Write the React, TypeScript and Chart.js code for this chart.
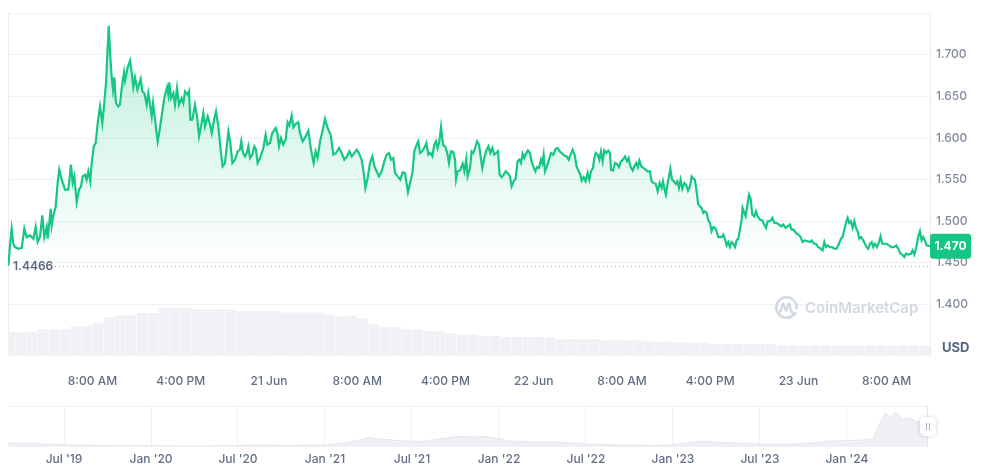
import React, { useEffect, useRef } from "react";
import { Chart, registerables } from "chart.js";
Chart.register(...registerables);

// Price series: hours since 20 Jun 00:00, price in USD
const priceHours = [
  0.37, 0.52, 0.67, 0.82, 0.97, 1.28, 1.58, 1.82, 2.03, 2.33, 2.64, 2.85, 3.03, 3.24, 3.45, 3.63, 3.85, 3.94, 4.09, 4.21,
  4.30, 4.45, 4.66, 4.84, 4.99, 5.21, 5.51, 5.81, 6.05, 6.20, 6.35, 6.57, 6.78, 6.96, 7.11, 7.32, 7.47, 7.62, 7.80, 7.93,
  8.11, 8.29, 8.47, 8.68, 8.89, 9.01, 9.22, 9.47, 9.62, 9.74, 9.86, 9.98, 10.13, 10.34, 10.49, 10.65, 10.86, 10.95, 11.19, 11.40,
  11.55, 11.70, 11.85, 12.07, 12.37, 12.52, 12.70, 12.91, 13.06, 13.24, 13.37, 13.49, 13.67, 13.79, 13.91, 14.09, 14.27, 14.51, 14.76, 14.88,
  14.97, 15.12, 15.33, 15.48, 15.66, 15.84, 16.08, 16.24, 16.39, 16.63, 16.75, 16.87, 17.05, 17.29, 17.48, 17.66, 17.84, 18.05, 18.20, 18.44,
  18.62, 18.81, 19.02, 19.20, 19.41, 19.65, 19.80, 20.01, 20.32, 20.50, 20.68, 20.92,
  21.16, 21.37, 21.49, 21.65, 21.83, 21.98, 22.13, 22.28, 22.49, 22.67, 22.82, 22.97, 23.19, 23.49, 23.70, 23.85, 24.09, 24.30, 24.61, 24.76,
  24.91, 25.09, 25.30, 25.51, 25.69, 25.85, 26.06, 26.21, 26.42, 26.66, 26.81, 27.05, 27.33, 27.57, 27.81, 28.05, 28.23, 28.41, 28.63, 28.84,
  29.08, 29.32, 29.59, 29.84, 30.08, 30.35, 30.59, 30.83, 31.07, 31.29, 31.50, 31.74, 31.95, 32.16, 32.40, 32.59, 32.74, 32.95, 33.16, 33.37,
  33.55, 33.76, 33.97, 34.22, 34.46, 34.67, 34.88, 35.06, 35.27, 35.43, 35.67, 35.91, 36.12, 36.33, 36.45, 36.60, 36.79, 37.00, 37.18, 37.39,
  37.54, 37.69, 37.90, 38.15, 38.27, 38.45, 38.63, 38.81, 38.99, 39.14, 39.29, 39.45, 39.60, 39.78, 39.96, 40.17, 40.32, 40.50, 40.71, 40.87,
  40.96, 41.11, 41.32, 41.56, 41.71, 41.89, 42.01, 42.23,
  42.37, 42.53, 42.68, 42.86, 43.04, 43.19, 43.34, 43.49, 43.67, 43.89, 44.07, 44.25, 44.43, 44.61, 44.76, 44.91, 45.09, 45.28, 45.46, 45.70,
  45.85, 46.00, 46.18, 46.36, 46.54, 46.70, 46.85, 47.00, 47.15, 47.30, 47.48, 47.66, 47.81, 47.99, 48.15, 48.30, 48.48, 48.66, 48.78, 48.90,
  49.02, 49.20, 49.39, 49.57, 49.78, 49.99, 50.17, 50.35, 50.53, 50.78, 50.99, 51.17, 51.35, 51.53, 51.71, 51.89, 52.08, 52.23, 52.35, 52.53,
  52.71, 52.89, 53.04, 53.19, 53.37, 53.50, 53.62, 53.80, 53.95, 54.10, 54.25, 54.40, 54.58, 54.76, 54.92, 55.01, 55.19, 55.37, 55.55, 55.73,
  55.91, 56.09, 56.28, 56.46, 56.61, 56.76, 56.97, 57.12, 57.30, 57.45, 57.58, 57.76, 57.94, 58.15, 58.33, 58.54, 58.69, 58.87, 59.06, 59.24,
  59.42, 59.60, 59.72, 59.87, 59.99, 60.14, 60.27, 60.39, 60.54, 60.72, 60.87, 61.02, 61.17, 61.32, 61.47, 61.66, 61.81, 61.99, 62.17, 62.32,
  62.50,
  62.62, 62.77, 62.92, 63.07, 63.22, 63.38, 63.53, 63.68, 63.83, 63.98, 64.13, 64.28, 64.43, 64.58, 64.74, 64.89, 65.04, 65.19, 65.34, 65.49,
  65.64, 65.79, 65.94, 66.10, 66.25, 66.40, 66.55, 66.70, 66.85, 66.94, 67.09, 67.21, 67.36, 67.52, 67.67, 67.82, 68.00, 68.15, 68.30, 68.51,
  68.72, 68.90, 69.06, 69.21, 69.42, 69.63, 69.81, 70.02, 70.24, 70.42, 70.63, 70.84, 71.02, 71.23, 71.38, 71.57, 71.78, 71.99, 72.20, 72.38,
  72.59, 72.83, 73.05, 73.20, 73.41, 73.59, 73.80, 74.04, 74.19, 74.35, 74.50, 74.65, 74.86, 75.07, 75.25, 75.46, 75.68, 75.86, 76.01, 76.16,
  76.31, 76.46, 76.61, 76.76, 76.91, 77.07, 77.22, 77.37, 77.52, 77.67, 77.88, 78.03, 78.18, 78.33, 78.49, 78.64, 78.79, 78.94, 79.12, 79.30,
  79.45, 79.60, 79.79, 79.99, 80.21, 80.45, 80.66, 80.87, 81.05, 81.26, 81.42, 81.60, 81.75, 81.96, 82.20, 82.35, 82.51, 82.69, 82.87, 83.02,
  83.17, 83.32, 83.47, 83.62, 83.93,
];
const priceValues = [
  1.4466, 1.471, 1.491, 1.473, 1.469, 1.467, 1.468, 1.491, 1.481, 1.483, 1.479, 1.493, 1.475, 1.481, 1.507, 1.481, 1.493, 1.479, 1.499, 1.515,
  1.495, 1.507, 1.517, 1.546, 1.562, 1.550, 1.538, 1.538, 1.568, 1.546, 1.554, 1.523, 1.538, 1.542, 1.554, 1.556, 1.550, 1.560, 1.548, 1.570,
  1.590, 1.594, 1.618, 1.638, 1.618, 1.634, 1.665, 1.735, 1.697, 1.673, 1.658, 1.673, 1.642, 1.638, 1.640, 1.660, 1.679, 1.669, 1.685, 1.693,
  1.679, 1.661, 1.673, 1.658, 1.671, 1.656, 1.654, 1.640, 1.654, 1.638, 1.626, 1.642, 1.622, 1.608, 1.596, 1.610, 1.626, 1.648, 1.661, 1.652,
  1.667, 1.648, 1.654, 1.640, 1.660, 1.640, 1.648, 1.642, 1.656, 1.652, 1.656, 1.622, 1.622, 1.640, 1.626, 1.602, 1.614, 1.630, 1.614, 1.626,
  1.618, 1.606, 1.622, 1.632, 1.614, 1.582, 1.566, 1.570, 1.608, 1.594, 1.570, 1.574,
  1.584, 1.586, 1.596, 1.582, 1.578, 1.582, 1.590, 1.576, 1.580, 1.590, 1.586, 1.570, 1.576, 1.588, 1.604, 1.592, 1.594, 1.606, 1.612, 1.606,
  1.590, 1.600, 1.592, 1.598, 1.619, 1.615, 1.627, 1.613, 1.617, 1.619, 1.606, 1.596, 1.602, 1.609, 1.586, 1.570, 1.584, 1.576, 1.596, 1.608,
  1.623, 1.612, 1.604, 1.580, 1.582, 1.588, 1.582, 1.574, 1.578, 1.584, 1.578, 1.582, 1.586, 1.582, 1.574, 1.558, 1.540, 1.552, 1.570, 1.578,
  1.566, 1.560, 1.554, 1.560, 1.572, 1.580, 1.582, 1.574, 1.576, 1.558, 1.554, 1.550, 1.559, 1.558, 1.548, 1.535, 1.546, 1.558, 1.584, 1.592,
  1.596, 1.582, 1.584, 1.590, 1.594, 1.580, 1.582, 1.578, 1.592, 1.596, 1.588, 1.596, 1.613, 1.592, 1.590, 1.582, 1.570, 1.584, 1.583, 1.574,
  1.550, 1.560, 1.561, 1.569, 1.560, 1.575, 1.554, 1.564,
  1.584, 1.582, 1.588, 1.596, 1.592, 1.578, 1.564, 1.574, 1.584, 1.590, 1.582, 1.588, 1.580, 1.582, 1.584, 1.556, 1.553, 1.556, 1.560, 1.557,
  1.554, 1.542, 1.548, 1.551, 1.572, 1.574, 1.570, 1.581, 1.576, 1.581, 1.585, 1.582, 1.572, 1.565, 1.560, 1.565, 1.564, 1.574, 1.570, 1.580,
  1.560, 1.566, 1.574, 1.582, 1.580, 1.587, 1.588, 1.584, 1.582, 1.579, 1.578, 1.574, 1.580, 1.586, 1.580, 1.566, 1.560, 1.556, 1.549, 1.553,
  1.548, 1.558, 1.550, 1.560, 1.564, 1.576, 1.582, 1.580, 1.574, 1.584, 1.572, 1.585, 1.582, 1.585, 1.582, 1.562, 1.561, 1.570, 1.569, 1.565,
  1.572, 1.574, 1.578, 1.572, 1.576, 1.566, 1.561, 1.566, 1.570, 1.565, 1.573, 1.566, 1.564, 1.562, 1.560, 1.560, 1.548, 1.546, 1.545, 1.536,
  1.546, 1.540, 1.548, 1.538, 1.532, 1.545, 1.554, 1.563, 1.550, 1.548, 1.545, 1.548, 1.540, 1.550, 1.539, 1.546, 1.544, 1.537, 1.542, 1.554,
  1.551,
  1.550, 1.536, 1.520, 1.518, 1.516, 1.510, 1.512, 1.510, 1.501, 1.498, 1.488, 1.493, 1.492, 1.488, 1.481, 1.481, 1.481, 1.484, 1.479, 1.471,
  1.475, 1.469, 1.475, 1.473, 1.469, 1.477, 1.479, 1.490, 1.502, 1.516, 1.510, 1.506, 1.518, 1.532, 1.527, 1.508, 1.506, 1.512, 1.506, 1.502,
  1.501, 1.496, 1.492, 1.500, 1.500, 1.504, 1.498, 1.498, 1.496, 1.494, 1.496, 1.492, 1.494, 1.496, 1.490, 1.490, 1.486, 1.484, 1.481, 1.475,
  1.477, 1.476, 1.475, 1.477, 1.473, 1.473, 1.469, 1.467, 1.465, 1.475, 1.469, 1.471, 1.469, 1.469, 1.467, 1.467, 1.473, 1.479, 1.481, 1.490,
  1.498, 1.504, 1.498, 1.500, 1.492, 1.500, 1.492, 1.488, 1.479, 1.481, 1.477, 1.473, 1.469, 1.467, 1.473, 1.475, 1.469, 1.473, 1.469, 1.475,
  1.482, 1.473, 1.473, 1.473, 1.471, 1.469, 1.469, 1.471, 1.467, 1.461, 1.460, 1.457, 1.461, 1.460, 1.461, 1.465, 1.460, 1.469, 1.482, 1.488,
  1.477, 1.481, 1.477, 1.471, 1.470,
];

// 24h volume (USD millions), hourly bars
const volumeValues = [
  2.43, 2.43, 2.43, 2.70, 2.70, 2.70, 3.00, 3.00, 3.30, 3.90, 4.10, 4.10, 4.33, 4.33, 4.83, 4.83, 4.83, 4.70, 4.70, 4.70,
  4.70, 4.53, 4.53, 4.53, 4.53, 4.40, 4.40, 4.40, 4.40, 4.20, 4.03, 4.03, 3.80, 3.20, 2.93, 2.93, 2.70, 2.70, 2.50, 2.50,
  2.30, 2.17, 2.17, 2.03, 2.03, 1.93, 1.93, 1.93, 1.93, 1.83, 1.70, 1.70, 1.70, 1.70, 1.60, 1.60, 1.60, 1.60, 1.50, 1.43,
  1.43, 1.37, 1.37, 1.37, 1.20, 1.20, 1.20, 1.20, 1.20, 1.20, 1.03, 1.03, 1.03, 1.03, 1.03, 1.03, 1.03, 1.03, 1.03, 1.03,
  1.03, 1.03, 1.03, 1.03,
];
const volumeHours = volumeValues.map((_, i) => i + 0.5);

const xTickHours = [8, 16, 24, 32, 40, 48, 56, 64, 72, 80];
const xTickLabels = ["8:00 AM", "4:00 PM", "21 Jun", "8:00 AM", "4:00 PM", "22 Jun", "8:00 AM", "4:00 PM", "23 Jun", "8:00 AM"];
const yTickValues = [1.4, 1.45, 1.5, 1.55, 1.6, 1.65, 1.7, 1.75];
const lowPrice = 1.4466;
const lastPrice = 1.47;

// Navigator (full history)
const navYears = [
  2019.18, 2019.3, 2019.45, 2019.55, 2019.7, 2020.0, 2020.3, 2020.5, 2020.6, 2020.8, 2021.0, 2021.1, 2021.2, 2021.25, 2021.3,
  2021.35, 2021.45, 2021.55, 2021.62, 2021.7, 2021.75, 2021.85, 2021.92, 2022.0, 2022.05, 2022.2, 2022.35, 2022.45, 2022.55,
  2022.7, 2022.9, 2023.0, 2023.08, 2023.15, 2023.25, 2023.35, 2023.5, 2023.7, 2023.8, 2023.9, 2024.0, 2024.1, 2024.15, 2024.18,
  2024.22, 2024.25, 2024.28, 2024.32, 2024.36, 2024.4, 2024.44, 2024.466,
];
const navValues = [
  0.22, 0.19, 0.14, 0.11, 0.08, 0.065, 0.055, 0.08, 0.11, 0.08, 0.11, 0.22, 0.38, 0.52, 0.44,
  0.41, 0.33, 0.3, 0.38, 0.49, 0.57, 0.54, 0.57, 0.44, 0.33, 0.27, 0.27, 0.19, 0.14,
  0.11, 0.08, 0.11, 0.22, 0.3, 0.27, 0.22, 0.16, 0.16, 0.22, 0.33, 0.35, 0.38, 0.44, 1.09,
  1.85, 1.63, 1.9, 1.52, 1.58, 1.36, 1.47, 1.47,
];
const navTickYears = [2019.5, 2020, 2020.5, 2021, 2021.5, 2022, 2022.5, 2023, 2023.5, 2024];
const navTickLabels = ["Jul '19", "Jan '20", "Jul '20", "Jan '21", "Jul '21", "Jan '22", "Jul '22", "Jan '23", "Jul '23", "Jan '24"];

const GREEN = "#16c784";
const FONT = "Inter";

export default function App() {
  const mainRef = useRef<HTMLCanvasElement>(null);
  const navRef = useRef<HTMLCanvasElement>(null);

  useEffect(() => {
    const overlay = {
      id: "overlay",
      beforeDatasetsDraw(chart: any) {
        const { ctx, chartArea, scales } = chart;
        const y = Math.round(scales.y.getPixelForValue(lowPrice)) + 0.5;
        ctx.save();
        ctx.strokeStyle = "#a7b1c2";
        ctx.lineWidth = 1;
        ctx.setLineDash([1, 3]);
        ctx.beginPath();
        ctx.moveTo(chartArea.left + 47, y);
        ctx.lineTo(chartArea.right, y);
        ctx.stroke();
        ctx.setLineDash([]);
        // left border
        ctx.strokeStyle = "#eaecef";
        ctx.beginPath();
        ctx.moveTo(chartArea.left + 0.5, chartArea.top);
        ctx.lineTo(chartArea.left + 0.5, chartArea.bottom);
        ctx.stroke();
        ctx.restore();
      },
      afterDraw(chart: any) {
        const { ctx, chartArea, scales } = chart;
        ctx.save();
        // low label
        const yl = scales.y.getPixelForValue(lowPrice);
        ctx.font = `600 12px ${FONT}`;
        ctx.fillStyle = "#58667e";
        ctx.textBaseline = "middle";
        ctx.textAlign = "left";
        ctx.fillText(lowPrice.toFixed(4), chartArea.left + 5, yl + 1);
        // watermark
        const cx = 786.5, cy = 307.5;
        ctx.strokeStyle = "#d3d9e3";
        ctx.lineWidth = 2.6;
        ctx.beginPath();
        ctx.arc(cx, cy, 10.2, 0.15 * Math.PI, 2.05 * Math.PI);
        ctx.stroke();
        ctx.lineWidth = 2.4;
        ctx.lineJoin = "round";
        ctx.beginPath();
        ctx.moveTo(cx - 6.5, cy + 5);
        ctx.lineTo(cx - 3.5, cy - 4);
        ctx.lineTo(cx - 0.5, cy + 3);
        ctx.lineTo(cx + 2.5, cy - 4);
        ctx.lineTo(cx + 5, cy + 4);
        ctx.quadraticCurveTo(cx + 7, cy + 8, cx + 9.5, cy + 5);
        ctx.stroke();
        ctx.fillStyle = "#d3d9e3";
        ctx.font = `600 15px ${FONT}`;
        ctx.textBaseline = "middle";
        ctx.fillText("CoinMarketCap", 805, 308.5);
        // USD
        ctx.fillStyle = "#58667e";
        ctx.font = `700 13px ${FONT}`;
        ctx.fillText("USD", chartArea.right + 12, 348.5);
        // price badge
        const yb = scales.y.getPixelForValue(lastPrice);
        ctx.fillStyle = GREEN;
        ctx.beginPath();
        (ctx as any).roundRect(chartArea.right, yb - 12.5, 41, 25, 3);
        ctx.fill();
        ctx.fillStyle = "#ffffff";
        ctx.font = `700 12px ${FONT}`;
        ctx.textAlign = "center";
        ctx.fillText(lastPrice.toFixed(3), chartArea.right + 20.5, yb + 0.5);
        ctx.restore();
      },
    };

    const main = new Chart(mainRef.current!, {
      type: "line",
      data: {
        datasets: [
          {
            type: "line",
            data: priceHours.map((h, i) => ({ x: h, y: priceValues[i] })),
            borderColor: GREEN,
            borderWidth: 2.2,
            pointRadius: 0,
            tension: 0,
            fill: "start",
            yAxisID: "y",
            order: 0,
            backgroundColor: (c: any) => {
              const ch = c.chart;
              const area = ch.chartArea;
              if (!area) return "rgba(22,199,132,0.1)";
              const yEnd = ch.scales.y.getPixelForValue(lowPrice);
              const g = ch.ctx.createLinearGradient(0, area.top, 0, yEnd);
              g.addColorStop(0, "rgba(22,199,132,0.30)");
              g.addColorStop(1, "rgba(22,199,132,0.0)");
              return g;
            },
          } as any,
          {
            type: "bar",
            data: volumeHours.map((h, i) => ({ x: h, y: volumeValues[i] })),
            backgroundColor: "#eff1f5",
            yAxisID: "yVol",
            barPercentage: 0.96,
            categoryPercentage: 1,
            order: 1,
          } as any,
        ],
      },
      options: {
        animation: false,
        responsive: false,
        devicePixelRatio: 1,
        layout: { padding: { left: 8, top: 10, right: 0, bottom: 0 } },
        plugins: { legend: { display: false }, tooltip: { enabled: false } },
        scales: {
          x: {
            type: "linear",
            offset: false,
            min: 0.34,
            max: 83.93,
            grid: { display: false, offset: false },
            border: { display: false },
            afterBuildTicks: (s: any) => {
              s.ticks = xTickHours.map((v) => ({ value: v }));
            },
            afterFit: (s: any) => {
              s.height = 44;
            },
            ticks: {
              autoSkip: false,
              maxRotation: 0,
              padding: 10,
              color: "#616e85",
              font: { family: FONT, size: 12, weight: "500" },
              callback: (v: any) => xTickLabels[xTickHours.indexOf(Number(v))] ?? "",
            },
          },
          y: {
            position: "right",
            min: 1.3381,
            max: 1.75,
            afterBuildTicks: (s: any) => {
              s.ticks = yTickValues.map((v) => ({ value: v }));
            },
            afterFit: (s: any) => {
              s.width = 65;
            },
            grid: { color: "#eff2f5", drawTicks: false },
            border: { display: true, color: "#eaecef" },
            ticks: {
              padding: 6,
              color: "#808a9d",
              font: { family: FONT, size: 12, weight: "500" },
              callback: (v: any) => (Number(v) >= 1.749 ? "" : Number(v).toFixed(3)),
            },
          },
          yVol: { display: false, min: 0, max: 34.6 },
        },
      } as any,
      plugins: [overlay],
    });

    const navOverlay = {
      id: "navOverlay",
      afterDraw(chart: any) {
        const { ctx, chartArea } = chart;
        ctx.save();
        ctx.strokeStyle = "#eff2f5";
        ctx.lineWidth = 1;
        ctx.beginPath();
        ctx.moveTo(chartArea.left, chartArea.top + 0.5);
        ctx.lineTo(chartArea.right, chartArea.top + 0.5);
        ctx.moveTo(chartArea.left, chartArea.bottom - 0.5);
        ctx.lineTo(chartArea.right, chartArea.bottom - 0.5);
        ctx.stroke();
        ctx.strokeStyle = "#dfe6f2";
        ctx.beginPath();
        ctx.moveTo(chartArea.right - 0.5, chartArea.top);
        ctx.lineTo(chartArea.right - 0.5, chartArea.bottom);
        ctx.stroke();
        // handle
        const hx = chartArea.right - 8, hy = 17;
        ctx.shadowColor = "rgba(0,0,0,0.18)";
        ctx.shadowBlur = 4;
        ctx.fillStyle = "#ffffff";
        ctx.beginPath();
        (ctx as any).roundRect(hx, hy, 16, 19, 5);
        ctx.fill();
        ctx.shadowColor = "transparent";
        ctx.strokeStyle = "#a6b0c3";
        ctx.lineWidth = 1;
        ctx.beginPath();
        ctx.moveTo(hx + 6.5, hy + 6);
        ctx.lineTo(hx + 6.5, hy + 13);
        ctx.moveTo(hx + 9.5, hy + 6);
        ctx.lineTo(hx + 9.5, hy + 13);
        ctx.stroke();
        ctx.restore();
      },
    };

    const nav = new Chart(navRef.current!, {
      type: "line",
      data: {
        datasets: [
          {
            data: navYears.map((x, i) => ({ x, y: navValues[i] })),
            borderColor: "#e2e6ee",
            borderWidth: 1,
            backgroundColor: "#eef0f4",
            fill: "start",
            pointRadius: 0,
            tension: 0,
          },
        ],
      },
      options: {
        animation: false,
        responsive: false,
        devicePixelRatio: 1,
        layout: { padding: { left: 8, right: 67, top: 6, bottom: 0 } },
        plugins: { legend: { display: false }, tooltip: { enabled: false } },
        scales: {
          x: {
            type: "linear",
            min: 2019.178,
            max: 2024.466,
            afterBuildTicks: (s: any) => {
              s.ticks = navTickYears.map((v) => ({ value: v }));
            },
            afterFit: (s: any) => {
              s.height = 23;
            },
            grid: { color: "#eff2f5", drawTicks: false },
            border: { display: false },
            ticks: {
              autoSkip: false,
              maxRotation: 0,
              padding: 5,
              color: "#616e85",
              font: { family: FONT, size: 12, weight: "500" },
              callback: (v: any) => navTickLabels[navTickYears.indexOf(Number(v))] ?? "",
            },
          },
          y: { display: false, min: 0, max: 2.23 },
        },
      } as any,
      plugins: [navOverlay],
    });

    return () => {
      main.destroy();
      nav.destroy();
    };
  }, []);

  return (
    <div style={{ position: "absolute", left: 0, top: 0, width: 995, height: 470, background: "#ffffff" }}>
      <canvas ref={mainRef} width={995} height={400} style={{ position: "absolute", left: 0, top: 0, width: 995, height: 400 }} />
      <canvas ref={navRef} width={995} height={70} style={{ position: "absolute", left: 0, top: 400, width: 995, height: 70 }} />
    </div>
  );
}
